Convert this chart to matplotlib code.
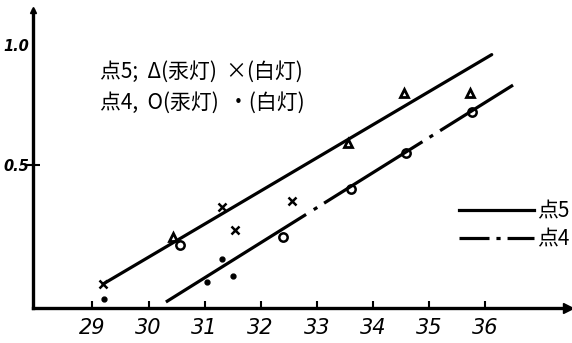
import matplotlib
matplotlib.use("Agg")
import matplotlib.pyplot as plt
from matplotlib.lines import Line2D

plt.rcParams['font.family'] = ['Noto Sans CJK SC', 'DejaVu Sans']
plt.rcParams['lines.scale_dashes'] = False

# ---- data ----
tri_x = [30.44, 33.56, 34.55, 35.73]          # 点5, Δ (汞灯)
tri_y = [0.20, 0.59, 0.80, 0.80]
cross_x = [29.19, 31.31, 31.54, 32.55]        # 点5, × (白灯)
cross_y = [0.004, 0.325, 0.23, 0.35]
circ_x = [30.56, 32.40, 33.61, 34.59, 35.77]  # 点4, O (汞灯)
circ_y = [0.167, 0.20, 0.40, 0.55, 0.72]
dot_x = [29.21, 31.04, 31.31, 31.51]          # 点4, • (白灯)
dot_y = [-0.058, 0.013, 0.108, 0.038]
fit5_x = [29.19, 36.12]
fit5_y = [0.004, 0.96]
fit4_x = [30.31, 36.50]
fit4_y = [-0.071, 0.833]
xticks = [29, 30, 31, 32, 33, 34, 35, 36]
yticks = [0.5, 1.0]
ytick_labels = ['0.5', '1.0']
note_lines = ['点5;  Δ(汞灯)  ×(白灯)', '点4,  O(汞灯)  •(白灯)']
legend_labels = ['点5', '点4']

W, H = 572, 343
fig = plt.figure(figsize=(W / 100, H / 100), dpi=100)
ax = fig.add_axes([33 / W, 1 - 308 / H, (568 - 33) / W, (308 - 10) / H])
ax.set_xlim(27.94, 37.48)
ax.set_ylim(-0.096, 1.146)

for s in ['top', 'right']:
    ax.spines[s].set_visible(False)
for s in ['left', 'bottom']:
    ax.spines[s].set_linewidth(2.4)

# axis arrows
ax.plot(1, 0, '>', color='black', ms=7, transform=ax.transAxes, clip_on=False)
ax.plot(0, 1, '^', color='black', ms=5, transform=ax.transAxes, clip_on=False)

dash4 = (0, (119, 6.5, 3, 5.8, 83.5, 6, 3, 6, 300))
ax.plot(fit5_x, fit5_y, color='black', lw=2.3, solid_capstyle='round')
ax.plot(fit4_x, fit4_y, color='black', lw=2.3, linestyle=dash4,
        dash_capstyle='butt')

ax.plot(tri_x, tri_y, '^', ms=6, mfc='none', mec='black', mew=2, ls='none')
ax.plot(cross_x, cross_y, 'x', ms=6, mec='black', mew=1.8, ls='none')
ax.plot(circ_x, circ_y, 'o', ms=6, mfc='none', mec='black', mew=1.8, ls='none')
ax.plot(dot_x, dot_y, 'o', ms=3.5, color='black', ls='none')

ax.set_xticks(xticks)
ax.set_xticklabels([str(t) for t in xticks], fontsize=15, style='italic',
                   family='DejaVu Sans')
ax.tick_params(axis='x', direction='in', length=5, width=1.5, pad=7)
ax.set_yticks(yticks)
ax.set_yticklabels(ytick_labels, fontsize=10.5, style='italic', weight='bold',
                   family='DejaVu Sans')
ax.tick_params(axis='y', direction='inout', length=10, width=1.5, pad=-2)
ax.yaxis.get_major_ticks()[1].tick1line.set_visible(False)

fig.text(100 / W, 1 - 72 / H, note_lines[0], fontsize=15, va='center')
fig.text(100 / W, 1 - 103 / H, note_lines[1], fontsize=15, va='center')

h5 = Line2D([], [], color='black', lw=2.3)
h4 = Line2D([], [], color='black', lw=2.3,
            linestyle=(0, (21.6, 5, 3, 5, 30)), dash_capstyle='butt')
fig.legend([h5, h4], legend_labels, loc='upper right',
           bbox_to_anchor=(1.0, 1 - 198 / H), frameon=False, fontsize=15,
           handlelength=3.6, handletextpad=0.15, labelspacing=0.3,
           borderaxespad=0, borderpad=0.1)

fig.savefig('out.png', dpi=100)
